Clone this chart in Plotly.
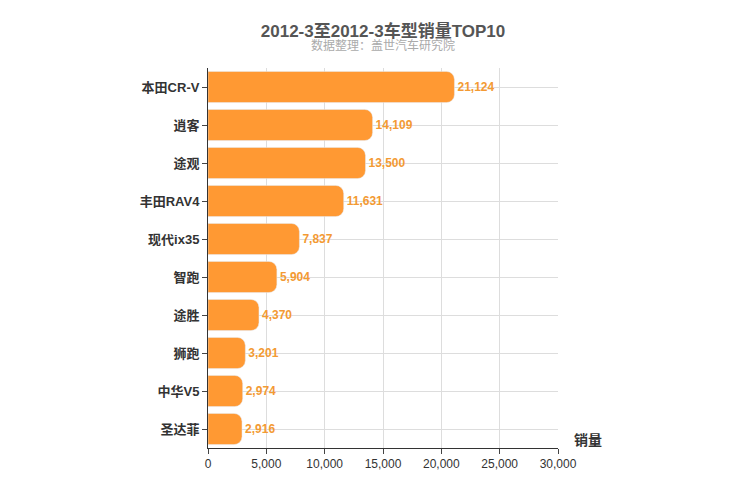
import plotly.graph_objects as go

models = ["本田CR-V", "逍客", "途观", "丰田RAV4", "现代ix35", "智跑", "途胜", "狮跑", "中华V5", "圣达菲"]
sales = [21124, 14109, 13500, 11631, 7837, 5904, 4370, 3201, 2974, 2916]
x_ticks = [0, 5000, 10000, 15000, 20000, 25000, 30000]

fig = go.Figure(
    go.Bar(
        x=sales,
        y=models,
        orientation="h",
        marker=dict(color="#ff9933", cornerradius=8),
        text=[f"<b>{v:,}</b>" for v in sales],
        textposition="outside",
        textfont=dict(color="#f39a33", size=12),
        cliponaxis=False,
        width=0.82,
    )
)

fig.update_xaxes(
    range=[0, 30000],
    tickvals=x_ticks,
    tickformat=",",
    showgrid=True,
    gridcolor="#dddddd",
    showline=True,
    linecolor="#333333",
    ticks="outside",
    ticklen=5,
    tickfont=dict(size=12, color="#333333"),
    automargin=False,
)
fig.update_yaxes(
    autorange="reversed",
    showgrid=True,
    gridcolor="#dddddd",
    showline=True,
    linecolor="#333333",
    ticks="outside",
    ticklen=5,
    tickvals=models,
    ticktext=[f"<b>{m}</b>" for m in models],
    tickfont=dict(size=13, color="#333333"),
    automargin=False,
)

fig.update_layout(
    width=750,
    height=500,
    font=dict(family="Liberation Sans, Noto Sans CJK SC, sans-serif"),
    title=dict(
        text="<b>2012-3至2012-3车型销量TOP10</b>",
        x=0.5,
        y=0.965,
        xanchor="center",
        font=dict(size=17, color="#555555"),
    ),
    annotations=[
        dict(text="数据整理：盖世汽车研究院", xref="paper", yref="paper", x=0.5, y=1.085,
             showarrow=False, font=dict(size=12, color="#aaaaaa"), xanchor="center"),
        dict(text="<b>销量</b>", xref="paper", yref="paper", x=1.04, y=-0.005,
             showarrow=False, font=dict(size=14, color="#333333"), xanchor="left", yanchor="bottom"),
    ],
    plot_bgcolor="white",
    paper_bgcolor="white",
    margin=dict(l=200, r=200, t=60, b=60, autoexpand=False),
    showlegend=False,
)

fig.write_html("out.html")
